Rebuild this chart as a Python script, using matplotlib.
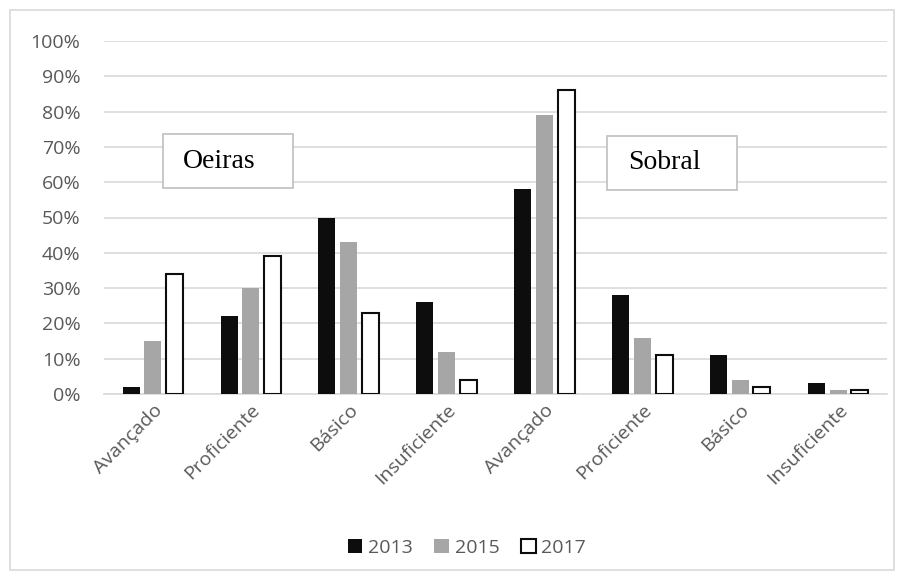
import matplotlib.pyplot as plt
import numpy as np
from matplotlib.patches import Rectangle

# === DATA ===
categories = ["Avançado", "Proficiente", "Básico", "Insuficiente",
              "Avançado", "Proficiente", "Básico", "Insuficiente"]
years = ["2013", "2015", "2017"]
v2013 = [2, 22, 50, 26, 58, 28, 11, 3]
v2015 = [15, 30, 43, 12, 79, 16, 4, 1]
v2017 = [34, 39, 23, 4, 86, 11, 2, 1]
yticks = [0, 10, 20, 30, 40, 50, 60, 70, 80, 90, 100]

plt.rcParams["font.family"] = ["Open Sans", "DejaVu Sans"]

fig = plt.figure(figsize=(9.04, 5.79), dpi=100)
fig.patches.append(Rectangle((10 / 904, 9 / 579), 884 / 904, 560 / 579,
                             transform=fig.transFigure, fill=False,
                             edgecolor="#d9d9d9", linewidth=1.2))

ax = fig.add_axes([104 / 904, 185 / 579, 783 / 904, 353 / 579])

x = np.arange(len(categories)) + 0.5
w = 0.174
step = 0.222
ax.bar(x - step, v2013, w, color="#0d0d0d", zorder=3, label=years[0])
ax.bar(x, v2015, w, color="#a6a6a6", zorder=3, label=years[1])
ax.bar(x + step, v2017, w, color="white", edgecolor="#0d0d0d",
       linewidth=1.5, zorder=3, label=years[2])

ax.set_xlim(0, len(categories))
ax.set_ylim(0, 100)
ax.set_yticks(yticks)
ax.set_yticklabels([f"{t}%" for t in yticks])
ax.grid(axis="y", color="#d9d9d9", linewidth=1.2, zorder=0)
for s in ["top", "right", "left"]:
    ax.spines[s].set_visible(False)
ax.spines["bottom"].set_color("#d9d9d9")
ax.spines["bottom"].set_linewidth(1.2)
ax.tick_params(length=0, labelsize=14, colors="#595959")
ax.tick_params(axis="y", pad=17)
ax.tick_params(axis="x", pad=5)
ax.set_xticks(x)
ax.set_xticklabels(categories, rotation=45, ha="right", rotation_mode="anchor")

# label boxes
for (x0, x1, y0, y1, tx, name) in [(0.603, 1.931, 58.4, 73.6, 0.81, "Oeiras"),
                                   (5.142, 6.464, 57.8, 73.1, 5.35, "Sobral")]:
    ax.add_patch(Rectangle((x0, y0), x1 - x0, y1 - y0, facecolor="white",
                           edgecolor="#bfbfbf", linewidth=1.2, zorder=5))
    ax.text(tx, (y0 + y1) / 2, name, fontsize=20, family="Liberation Serif",
            ha="left", va="center", zorder=6)

leg = fig.legend(loc="center", bbox_to_anchor=(467 / 904, 1 - 548 / 579), ncol=3,
                 frameon=False, fontsize=14, handlelength=0.75, handleheight=0.75,
                 handletextpad=0.3, columnspacing=1.1)
for t in leg.get_texts():
    t.set_color("#595959")

fig.savefig("out.png", dpi=100)
